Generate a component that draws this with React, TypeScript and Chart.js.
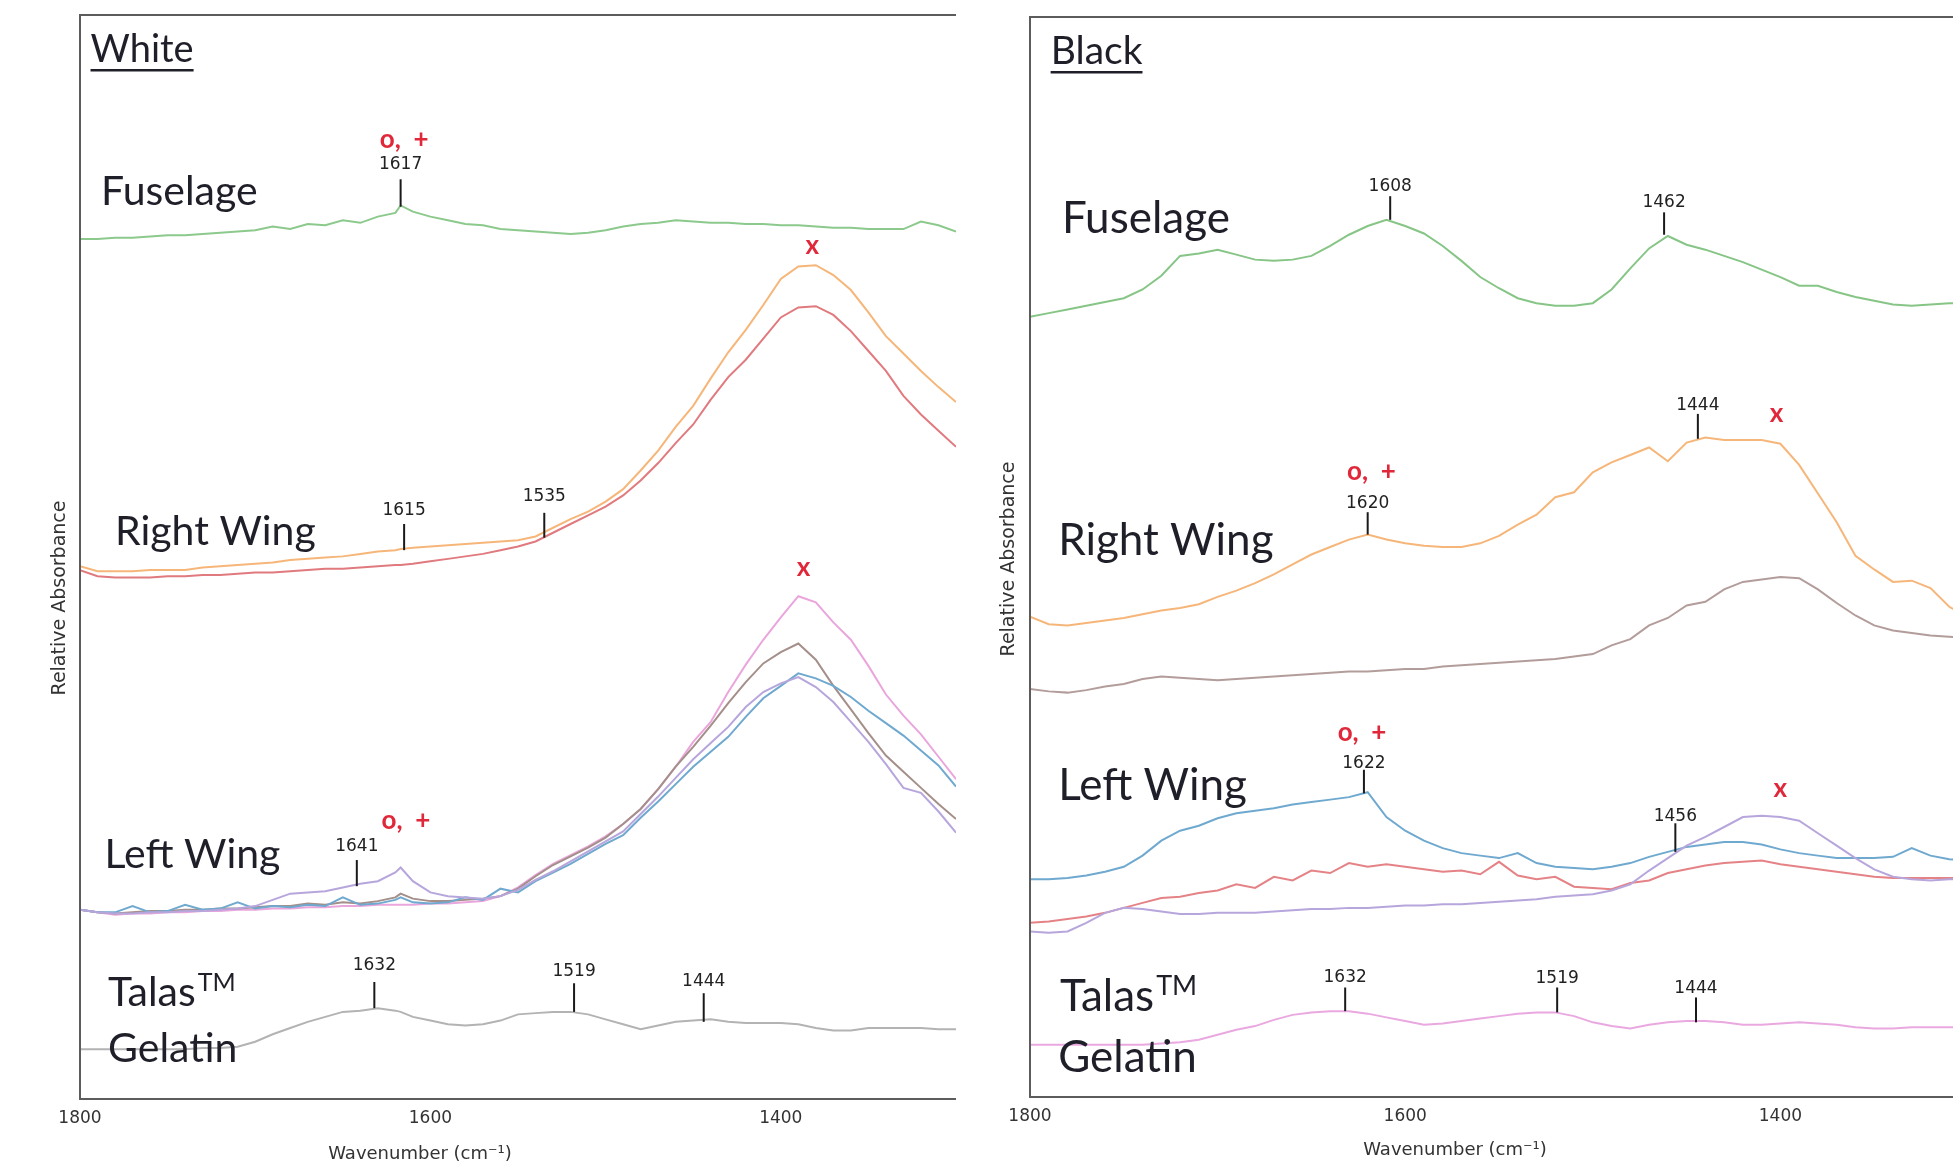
import React, { useEffect, useRef } from 'react';
import { Chart, registerables } from 'chart.js';

Chart.register(...registerables);

// ---------- LEFT PANEL (White) ----------
const WN_LEFT = [1800, 1790, 1780, 1770, 1760, 1750, 1740, 1730, 1720, 1710, 1700, 1690, 1680, 1670, 1660, 1650, 1640, 1630, 1620, 1617,
  1610, 1600, 1590, 1580, 1570, 1560, 1550, 1540, 1530, 1520, 1510, 1500, 1490, 1480, 1470, 1460, 1450, 1440, 1430, 1420, 1410, 1400,
  1390, 1380, 1370, 1360, 1350, 1340, 1330, 1320, 1310, 1300];

const W_FUSELAGE = [691, 691, 692, 692, 693, 694, 694, 695, 696, 697, 698, 701, 699, 703, 702, 706, 704, 709, 712, 718,
  713, 709, 706, 703, 702, 699, 698, 697, 696, 695, 696, 698, 701, 703, 704, 706, 705, 704, 704, 703, 703, 702,
  702, 701, 700, 700, 699, 699, 699, 705, 702, 697];
const W_RIGHT_A = [428, 424, 424, 424, 425, 425, 425, 427, 428, 429, 430, 431, 433, 434, 435, 436, 438, 440, 441, 442,
  443, 444, 445, 446, 447, 448, 449, 452, 459, 466, 472, 480, 490, 505, 521, 540, 557, 579, 600, 618, 638, 659,
  669, 670, 662, 650, 632, 613, 599, 585, 572, 560];
const W_RIGHT_B = [425, 420, 419, 419, 419, 420, 420, 421, 421, 422, 423, 423, 424, 425, 426, 426, 427, 428, 429, 429,
  430, 432, 434, 436, 438, 441, 444, 448, 455, 462, 469, 476, 485, 497, 511, 527, 542, 562, 580, 594, 611, 628,
  636, 637, 630, 617, 601, 585, 565, 550, 537, 524];
const W_LEFT_A = [152, 150, 148, 149, 149, 150, 150, 151, 151, 152, 152, 153, 153, 154, 154, 155, 155, 156, 156, 156,
  156, 157, 157, 158, 159, 163, 170, 180, 189, 196, 203, 211, 221, 233, 249, 267, 287, 303, 327, 349, 369, 387,
  404, 399, 383, 369, 348, 325, 308, 293, 275, 257];
const W_LEFT_B = [152, 150, 149, 150, 151, 151, 152, 152, 153, 153, 154, 155, 155, 157, 156, 158, 157, 159, 162, 165,
  161, 159, 159, 160, 161, 163, 169, 179, 188, 195, 202, 210, 221, 233, 249, 267, 283, 300, 318, 335, 350, 359,
  366, 353, 332, 313, 294, 276, 263, 250, 237, 225];
const W_LEFT_C = [152, 150, 150, 155, 150, 151, 156, 152, 153, 158, 153, 155, 154, 156, 155, 162, 156, 157, 160, 162,
  158, 157, 158, 162, 160, 169, 166, 175, 182, 189, 197, 205, 212, 226, 239, 253, 267, 279, 291, 307, 322, 332,
  342, 338, 332, 323, 312, 302, 292, 280, 268, 251];
const W_LEFT_D = [152, 150, 149, 149, 150, 150, 151, 151, 152, 153, 155, 160, 165, 166, 167, 170, 173, 175, 182, 186,
  175, 166, 163, 162, 161, 163, 168, 176, 183, 191, 199, 207, 215, 229, 243, 258, 273, 286, 299, 315, 327, 334,
  339, 331, 319, 303, 287, 269, 250, 246, 231, 214];
const W_TALAS = [40, 40, 40, 40, 40, 40, 40, 41, 41, 42, 46, 52, 57, 62, 66, 70, 71, 73, 71, 70,
  66, 63, 60, 59, 60, 63, 68, 69, 70, 70, 68, 64, 60, 56, 59, 62, 63, 64, 62, 61, 61, 61,
  60, 57, 55, 55, 57, 57, 57, 57, 56, 56];

// ---------- RIGHT PANEL (Black) ----------
const WN_RIGHT = [1800, 1790, 1780, 1770, 1760, 1750, 1740, 1730, 1720, 1710, 1700, 1690, 1680, 1670, 1660, 1650, 1640, 1630, 1620,
  1610, 1600, 1590, 1580, 1570, 1560, 1550, 1540, 1530, 1520, 1510, 1500, 1490, 1480, 1470, 1460, 1450, 1440, 1430, 1420, 1410, 1400,
  1390, 1380, 1370, 1360, 1350, 1340, 1330, 1320, 1310, 1300];

const B_FUSELAGE = [627, 630, 633, 636, 639, 642, 649, 660, 676, 678, 681, 677, 673, 672, 673, 676, 684, 693, 700,
  705, 700, 694, 684, 672, 659, 650, 642, 638, 636, 636, 638, 649, 666, 682, 692, 685, 681, 676, 671, 665, 659,
  652, 652, 647, 643, 640, 637, 636, 637, 638, 638];
const B_RIGHT_A = [386, 380, 379, 381, 383, 385, 388, 391, 393, 396, 402, 407, 413, 420, 428, 436, 442, 448, 452,
  448, 445, 443, 442, 442, 445, 451, 460, 468, 482, 486, 502, 510, 516, 522, 511, 526, 530, 528, 528, 528, 525,
  508, 485, 462, 435, 424, 414, 415, 409, 394, 386];
const B_RIGHT_B = [328, 326, 325, 327, 330, 332, 336, 338, 337, 336, 335, 336, 337, 338, 339, 340, 341, 342, 342,
  343, 344, 344, 346, 347, 348, 349, 350, 351, 352, 354, 356, 363, 368, 379, 385, 395, 398, 408, 414, 416, 418,
  417, 408, 397, 387, 379, 375, 373, 371, 370, 369];
const B_LEFT_A = [175, 175, 176, 178, 181, 185, 194, 206, 214, 218, 224, 228, 230, 232, 235, 237, 239, 241, 245,
  225, 214, 206, 200, 196, 194, 192, 196, 188, 185, 184, 183, 185, 188, 193, 197, 201, 203, 205, 205, 203, 199,
  196, 194, 192, 192, 192, 193, 200, 194, 191, 190];
const B_LEFT_B = [140, 141, 143, 145, 148, 152, 156, 160, 161, 164, 166, 171, 168, 177, 174, 182, 180, 188, 185,
  187, 185, 183, 181, 182, 179, 189, 178, 175, 177, 169, 168, 167, 172, 174, 180, 183, 186, 188, 189, 190, 187,
  185, 183, 181, 179, 177, 176, 176, 176, 176, 176];
const B_LEFT_C = [133, 132, 133, 140, 148, 152, 151, 149, 147, 147, 148, 148, 148, 149, 150, 151, 151, 152, 152,
  153, 154, 154, 155, 155, 156, 157, 158, 159, 161, 162, 163, 166, 171, 182, 192, 202, 209, 217, 225, 226, 225,
  222, 212, 202, 192, 183, 177, 175, 174, 175, 175];
const B_TALAS = [42, 42, 42, 42, 42, 42, 42, 43, 44, 46, 50, 54, 57, 62, 66, 68, 69, 69, 67,
  64, 61, 58, 59, 61, 63, 65, 67, 68, 68, 65, 60, 57, 55, 58, 60, 61, 61, 60, 58, 58, 59,
  60, 59, 58, 56, 55, 55, 56, 56, 56, 56];

const X_TICKS = [1800, 1600, 1400];

type Peak = { wn: number; y1: number; y2: number; ty: number; t: string };
type Mark = { wn: number; y: number; t: string };
type Label = { wn: number; y: number; t: string; sup?: string; underline?: boolean; size: number };

const LEFT_PEAKS: Peak[] = [
  { wn: 1617, y1: 717, y2: 739, ty: 751, t: '1617' },
  { wn: 1615, y1: 441, y2: 462, ty: 473, t: '1615' },
  { wn: 1535, y1: 451, y2: 471, ty: 484, t: '1535' },
  { wn: 1642, y1: 171, y2: 192, ty: 203, t: '1641' },
  { wn: 1632, y1: 73, y2: 94, ty: 107, t: '1632' },
  { wn: 1518, y1: 70, y2: 93, ty: 102, t: '1519' },
  { wn: 1444, y1: 62, y2: 85, ty: 94, t: '1444' },
];
const LEFT_MARKS: Mark[] = [
  { wn: 1615, y: 771, t: 'o,  +' },
  { wn: 1382, y: 686, t: 'x' },
  { wn: 1614, y: 224, t: 'o,  +' },
  { wn: 1387, y: 427, t: 'x' },
];
const LEFT_LABELS: Label[] = [
  { wn: 1794, y: 833, t: 'White', underline: true, size: 38 },
  { wn: 1788, y: 718, t: 'Fuselage', size: 41 },
  { wn: 1780, y: 445, t: 'Right Wing', size: 41 },
  { wn: 1786, y: 186, t: 'Left Wing', size: 41 },
  { wn: 1784, y: 75, t: 'Talas', sup: 'TM', size: 41 },
  { wn: 1784, y: 30, t: 'Gelatin', size: 41 },
];

const RIGHT_PEAKS: Peak[] = [
  { wn: 1608, y1: 705, y2: 724, ty: 732, t: '1608' },
  { wn: 1462, y1: 693, y2: 711, ty: 719, t: '1462' },
  { wn: 1620, y1: 452, y2: 470, ty: 477, t: '1620' },
  { wn: 1444, y1: 529, y2: 549, ty: 556, t: '1444' },
  { wn: 1622, y1: 244, y2: 263, ty: 268, t: '1622' },
  { wn: 1456, y1: 197, y2: 220, ty: 225, t: '1456' },
  { wn: 1632, y1: 69, y2: 88, ty: 96, t: '1632' },
  { wn: 1519, y1: 68, y2: 88, ty: 95, t: '1519' },
  { wn: 1445, y1: 60, y2: 80, ty: 87, t: '1444' },
];
const RIGHT_MARKS: Mark[] = [
  { wn: 1618, y: 503, t: 'o,  +' },
  { wn: 1402, y: 549, t: 'x' },
  { wn: 1623, y: 293, t: 'o,  +' },
  { wn: 1400, y: 248, t: 'x' },
];
const RIGHT_LABELS: Label[] = [
  { wn: 1789, y: 830, t: 'Black', underline: true, size: 39 },
  { wn: 1783, y: 694, t: 'Fuselage', size: 44 },
  { wn: 1785, y: 436, t: 'Right Wing', size: 44 },
  { wn: 1785, y: 239, t: 'Left Wing', size: 44 },
  { wn: 1784, y: 69, t: 'Talas', sup: 'TM', size: 44 },
  { wn: 1785, y: 20, t: 'Gelatin', size: 44 },
];

type PanelSpec = {
  peaks: Peak[];
  marks: Mark[];
  labels: Label[];
  xTitle: { x: number; y: number };
  yTitle: { x: number; y: number };
};

function overlay(spec: PanelSpec) {
  return {
    id: 'overlay',
    afterDatasetsDraw(chart: any) {
      const { ctx, chartArea: a, scales } = chart;
      const xs = scales.x;
      const ys = scales.y;
      ctx.save();
      // frame: top, left, bottom
      ctx.strokeStyle = '#5c5c5c';
      ctx.lineWidth = 2;
      ctx.beginPath();
      ctx.moveTo(a.left - 1, a.top);
      ctx.lineTo(a.right, a.top);
      ctx.moveTo(a.left, a.top);
      ctx.lineTo(a.left, a.bottom);
      ctx.moveTo(a.left - 1, a.bottom);
      ctx.lineTo(a.right, a.bottom);
      ctx.stroke();

      // peak ticks
      ctx.strokeStyle = '#1a1a1a';
      ctx.lineWidth = 2;
      ctx.fillStyle = '#222';
      ctx.font = '17px "DejaVu Sans"';
      ctx.textAlign = 'center';
      ctx.textBaseline = 'middle';
      for (const p of spec.peaks) {
        const px = xs.getPixelForValue(p.wn);
        ctx.beginPath();
        ctx.moveTo(px, ys.getPixelForValue(p.y1));
        ctx.lineTo(px, ys.getPixelForValue(p.y2));
        ctx.stroke();
        ctx.fillText(p.t, px, ys.getPixelForValue(p.ty));
      }

      // red markers
      ctx.fillStyle = '#e0283a';
      ctx.font = 'bold 26px Lato';
      for (const m of spec.marks) {
        ctx.fillText(m.t, xs.getPixelForValue(m.wn), ys.getPixelForValue(m.y));
      }

      // big labels
      ctx.textAlign = 'left';
      ctx.textBaseline = 'alphabetic';
      ctx.fillStyle = '#1f1f29';
      for (const l of spec.labels) {
        const px = xs.getPixelForValue(l.wn);
        const py = ys.getPixelForValue(l.y);
        ctx.font = `${l.size}px Lato`;
        ctx.fillText(l.t, px, py);
        const w = ctx.measureText(l.t).width;
        if (l.sup) {
          ctx.font = `${Math.round(l.size * 0.62)}px Lato`;
          ctx.fillText(l.sup, px + w + 2, py - l.size * 0.36);
          ctx.font = `${l.size}px Lato`;
        }
        if (l.underline) {
          ctx.strokeStyle = '#1f1f29';
          ctx.lineWidth = 2.5;
          ctx.beginPath();
          ctx.moveTo(px, py + 8);
          ctx.lineTo(px + w, py + 8);
          ctx.stroke();
        }
      }

      // axis titles
      ctx.fillStyle = '#333';
      ctx.font = '18px "DejaVu Sans"';
      ctx.textAlign = 'center';
      ctx.textBaseline = 'middle';
      ctx.fillText('Wavenumber (cm\u207B\u00B9)', spec.xTitle.x, spec.xTitle.y);
      ctx.save();
      ctx.translate(spec.yTitle.x, spec.yTitle.y);
      ctx.rotate(-Math.PI / 2);
      ctx.font = '19px "DejaVu Sans"';
      ctx.fillText('Relative Absorbance', 0, 0);
      ctx.restore();
      ctx.restore();
    },
  };
}

type Series = { data: number[]; color: string };

function Panel(props: {
  left: number;
  width: number;
  wn: number[];
  series: Series[];
  xMin: number;
  padTop: number;
  padRight: number;
  yWidth: number;
  xHeight: number;
  yMax: number;
  spec: PanelSpec;
}) {
  const ref = useRef<HTMLCanvasElement | null>(null);
  useEffect(() => {
    if (!ref.current) return;
    const chart = new Chart(ref.current, {
      type: 'line',
      data: {
        datasets: props.series.map((s) => ({
          data: props.wn.map((w, i) => ({ x: w, y: s.data[i] })),
          borderColor: s.color,
          borderWidth: 2,
          pointRadius: 0,
          tension: 0,
          fill: false,
        })),
      },
      options: {
        animation: false,
        responsive: false,
        events: [],
        layout: { padding: { left: 0, top: props.padTop, right: props.padRight, bottom: 0 } },
        plugins: { legend: { display: false }, tooltip: { enabled: false }, title: { display: false } },
        scales: {
          x: {
            type: 'linear',
            reverse: true,
            min: props.xMin,
            max: 1800,
            grid: { display: false, drawTicks: false },
            border: { display: false },
            ticks: {
              color: '#333',
              font: { family: 'DejaVu Sans', size: 17 },
              padding: 9,
              maxRotation: 0,
              autoSkip: false,
              callback: (v: any) => String(v),
            },
            afterBuildTicks: (scale: any) => {
              scale.ticks = X_TICKS.map((v) => ({ value: v }));
            },
            afterFit: (scale: any) => {
              scale.height = props.xHeight;
            },
          },
          y: {
            type: 'linear',
            min: 0,
            max: props.yMax,
            grid: { display: false, drawTicks: false },
            border: { display: false },
            ticks: { display: false },
            afterFit: (scale: any) => {
              scale.width = props.yWidth;
            },
          },
        },
      },
      plugins: [overlay(props.spec)],
    } as any);
    return () => chart.destroy();
  }, []);
  return (
    <canvas
      ref={ref}
      width={props.width}
      height={1175}
      style={{ position: 'absolute', left: props.left, top: 0, width: props.width, height: 1175 }}
    />
  );
}

export default function App() {
  const leftSeries: Series[] = [
    { data: W_TALAS, color: '#b3b3b3' },
    { data: W_LEFT_D, color: '#b7a6dc' },
    { data: W_LEFT_C, color: '#6fa9cf' },
    { data: W_LEFT_B, color: '#a48f8a' },
    { data: W_LEFT_A, color: '#eaa6dc' },
    { data: W_RIGHT_B, color: '#e07a7e' },
    { data: W_RIGHT_A, color: '#f6b679' },
    { data: W_FUSELAGE, color: '#8cc98c' },
  ];
  const rightSeries: Series[] = [
    { data: B_TALAS, color: '#eaa8e0' },
    { data: B_LEFT_C, color: '#b7a6dc' },
    { data: B_LEFT_B, color: '#e58286' },
    { data: B_LEFT_A, color: '#6fa9cf' },
    { data: B_RIGHT_B, color: '#b39d9b' },
    { data: B_RIGHT_A, color: '#f6b679' },
    { data: B_FUSELAGE, color: '#86c586' },
  ];
  return (
    <div style={{ position: 'absolute', left: 0, top: 0, width: 1953, height: 1175, background: '#fff', overflow: 'hidden' }}>
      <Panel
        left={0}
        width={975}
        wn={WN_LEFT}
        series={leftSeries}
        xMin={1300}
        padTop={15}
        padRight={19}
        yWidth={80}
        xHeight={76}
        yMax={871}
        spec={{ peaks: LEFT_PEAKS, marks: LEFT_MARKS, labels: LEFT_LABELS, xTitle: { x: 420, y: 1154 }, yTitle: { x: 60, y: 598 } }}
      />
      <Panel
        left={980}
        width={973}
        wn={WN_RIGHT}
        series={rightSeries}
        xMin={1308}
        padTop={17}
        padRight={0}
        yWidth={50}
        xHeight={78}
        yMax={868}
        spec={{ peaks: RIGHT_PEAKS, marks: RIGHT_MARKS, labels: RIGHT_LABELS, xTitle: { x: 475, y: 1150 }, yTitle: { x: 29, y: 559 } }}
      />
    </div>
  );
}
